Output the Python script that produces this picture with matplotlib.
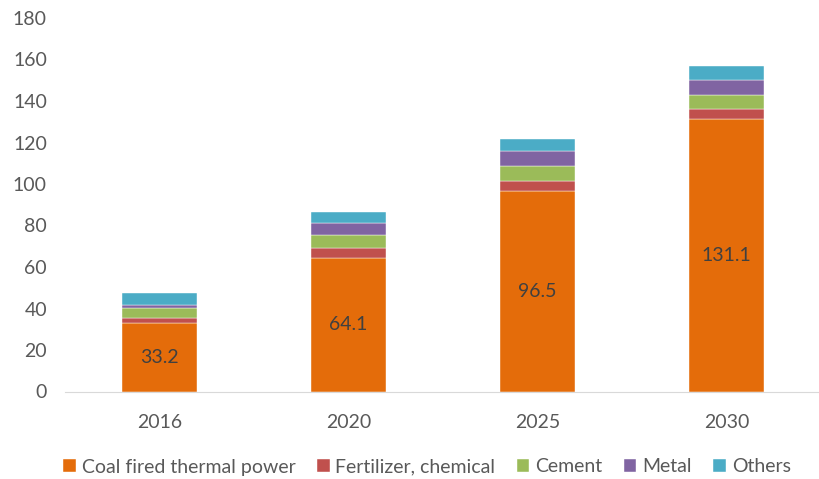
import matplotlib
matplotlib.use("Agg")
import matplotlib.pyplot as plt
import numpy as np

years = ["2016", "2020", "2025", "2030"]
series_names = ["Coal fired thermal power", "Fertilizer, chemical", "Cement", "Metal", "Others"]
coal = [33.2, 64.1, 96.5, 131.1]
fertilizer = [2.2, 5.2, 5.0, 4.9]
cement = [4.8, 6.1, 7.1, 7.1]
metal = [1.6, 5.6, 7.2, 7.1]
others = [5.6, 5.4, 5.9, 6.7]
colors = ["#E46C0A", "#C0504D", "#9BBB59", "#8064A2", "#4BACC6"]

plt.rcParams['font.family'] = ['Lato', 'DejaVu Sans']

fig = plt.figure(figsize=(8.19, 4.79), dpi=100)
ax = fig.add_axes([65/819, 1-391.5/479, (821-65)/819, (391.5-18)/479])

x = np.arange(len(years))
data = [coal, fertilizer, cement, metal, others]
bottom = np.zeros(len(years))
bars = []
for vals, name, c in zip(data, series_names, colors):
    b = ax.bar(x, vals, 0.4, bottom=bottom, color=c, label=name,
               edgecolor="white", linewidth=0.3)
    bars.append(b)
    bottom += np.array(vals)

for rect, v in zip(bars[0], coal):
    ax.text(rect.get_x() + rect.get_width()/2, v/2, f"{v}", ha="center", va="center",
            fontsize=14, color="#404040")

ax.set_xlim(-0.5, 3.5)
ax.set_ylim(0, 180)
ax.set_yticks(range(0, 181, 20))
ax.set_xticks(x)
ax.set_xticklabels(years)
for s in ["top", "right", "left"]:
    ax.spines[s].set_visible(False)
ax.spines["bottom"].set_color("#D9D9D9")
ax.tick_params(axis="both", length=0, labelsize=14, labelcolor="#595959")
ax.tick_params(axis="y", pad=13)
ax.tick_params(axis="x", pad=16)

leg = fig.legend(handles=bars, labels=series_names, loc="center", bbox_to_anchor=(427/819, 1-467/479),
                 ncol=5, frameon=False, fontsize=14, handlelength=0.65, handleheight=0.65,
                 handletextpad=0.3, columnspacing=1.1, labelcolor="#595959")

fig.savefig("out.png", dpi=100)
